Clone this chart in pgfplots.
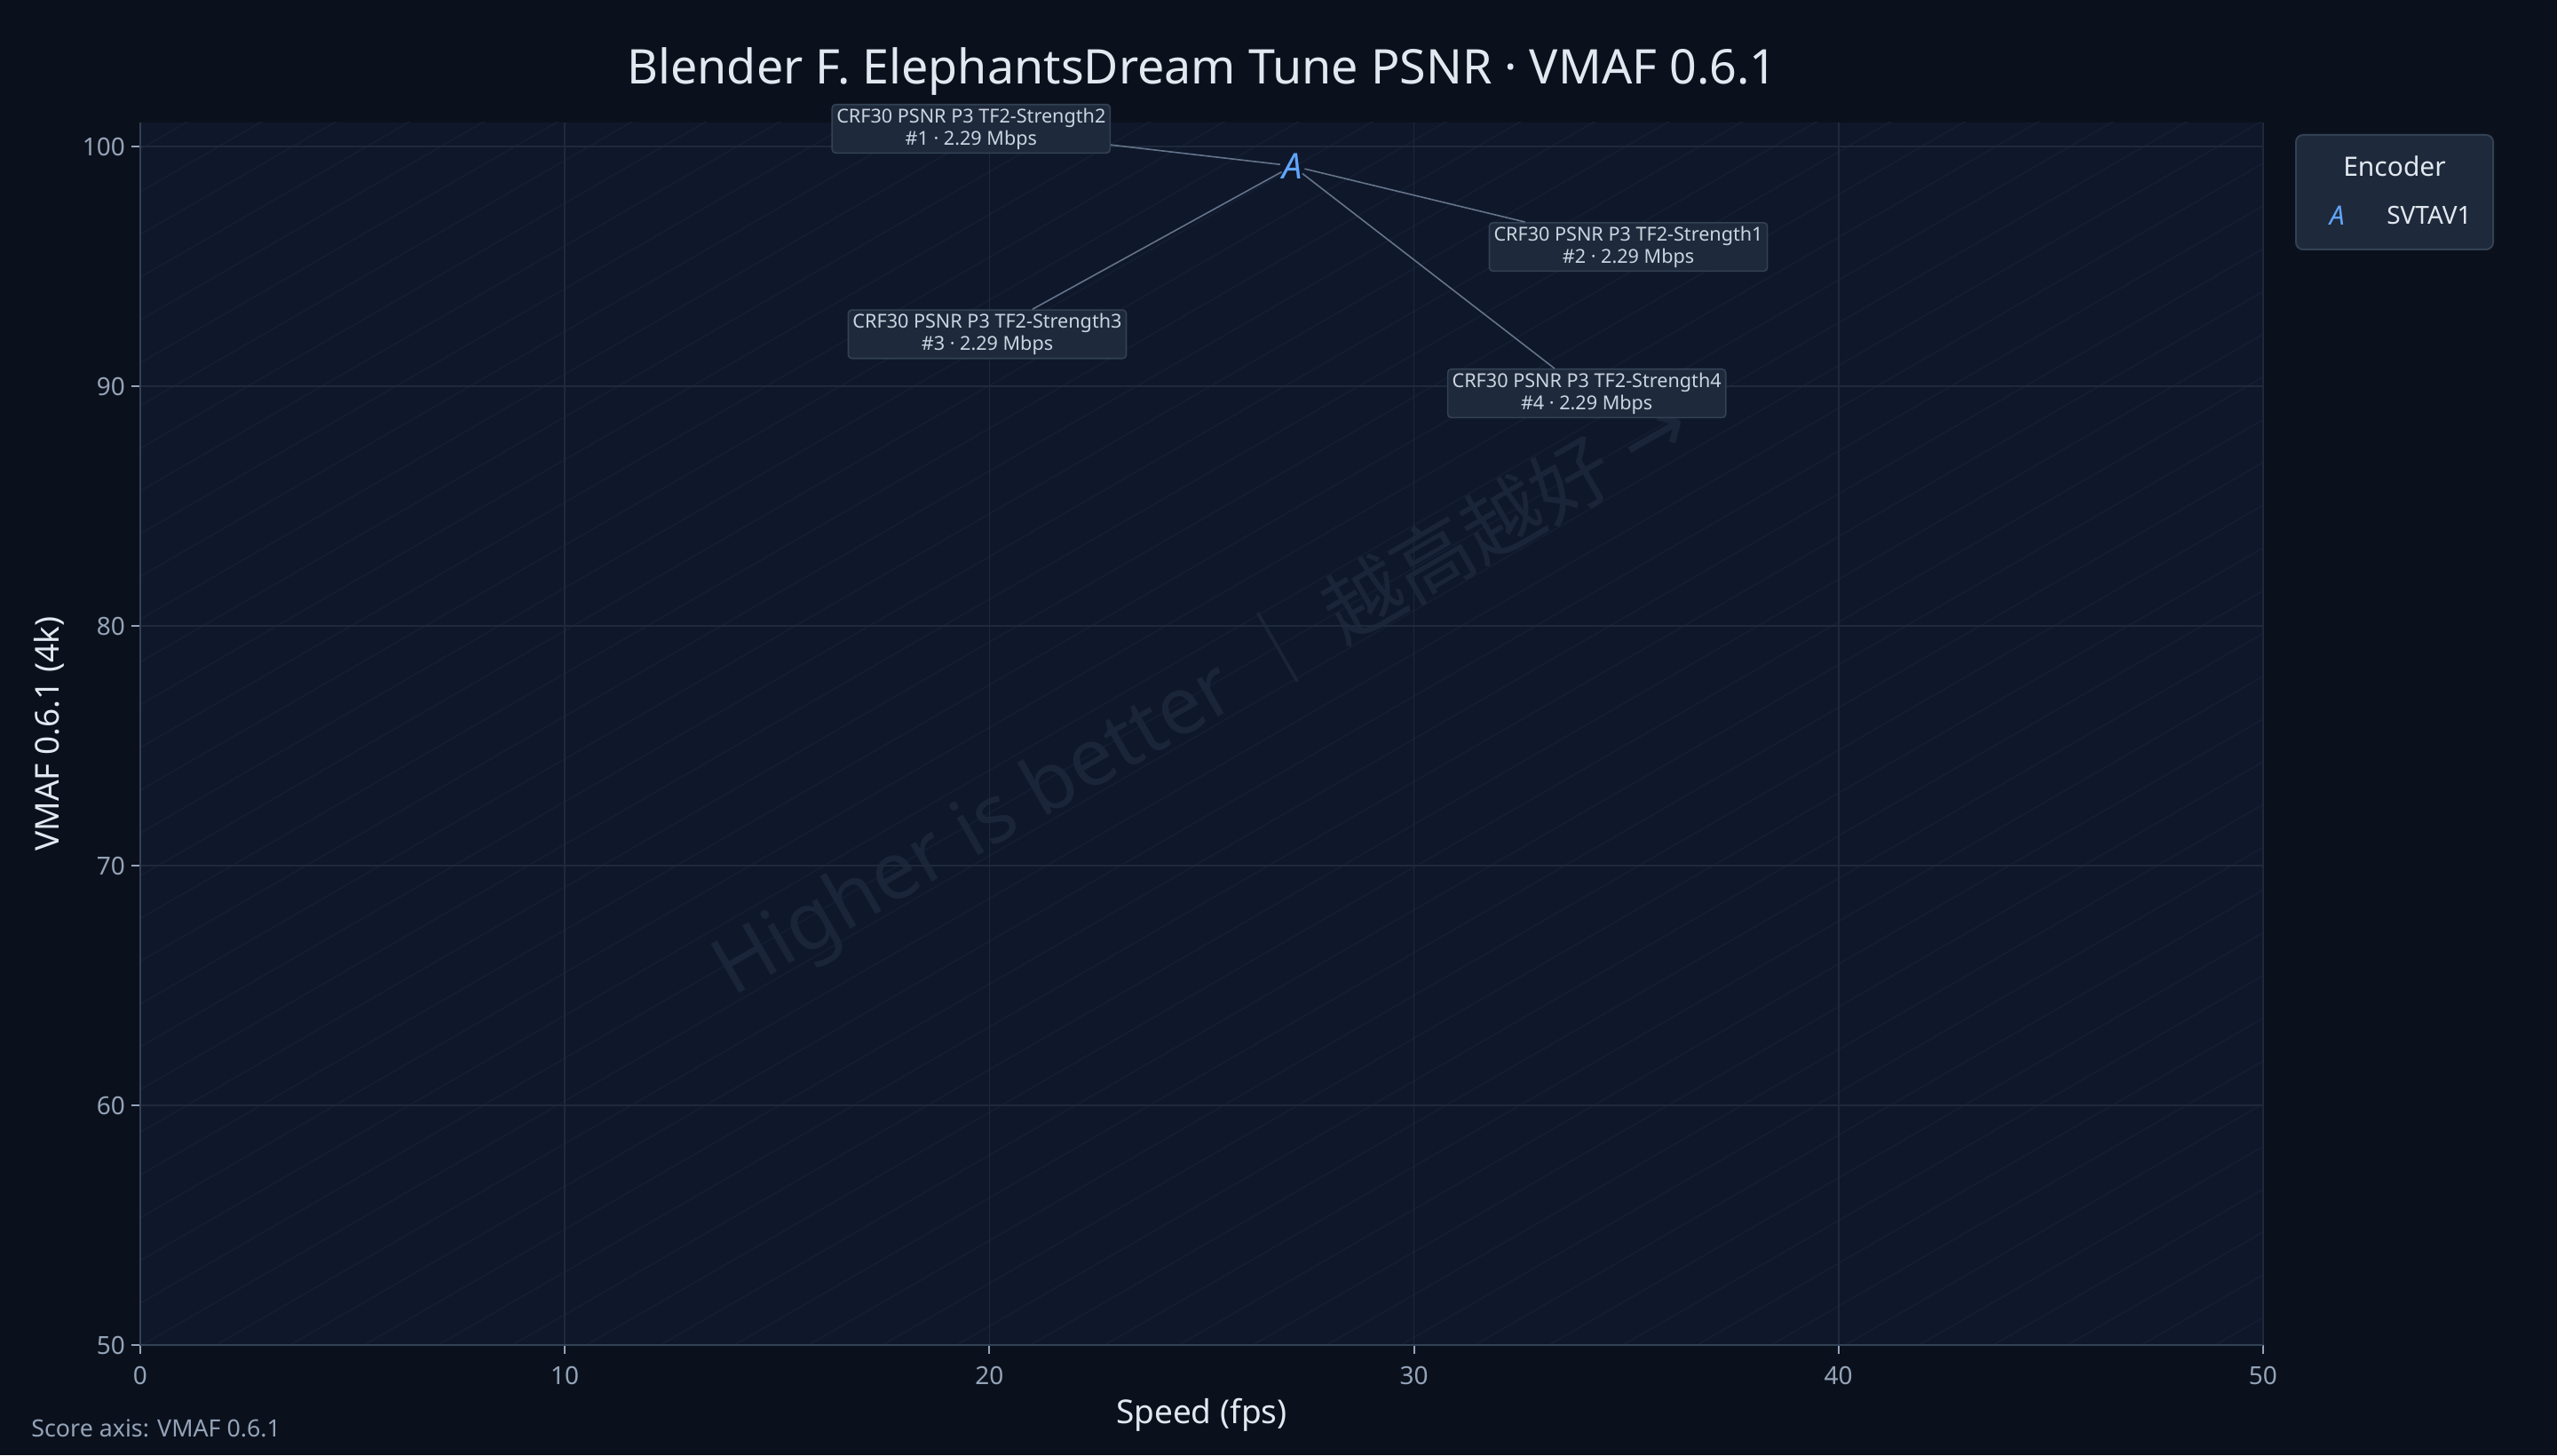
\documentclass[border=0pt]{standalone}
\usepackage{pgfplots}
\pgfplotsset{compat=1.18}
\usepackage{pgfplotstable}
\usepackage{fontspec}
\setmainfont{Noto Sans}
\newfontfamily\cjk{Noto Sans CJK SC}
\newfontfamily\dejavu{DejaVu Sans}
\definecolor{bgout}{HTML}{0B111C}
\definecolor{bgplot}{HTML}{0F172A}
\definecolor{gridc}{HTML}{1E293B}
\definecolor{axisc}{HTML}{334155}
\definecolor{tickc}{HTML}{94A3B8}
\definecolor{titlec}{HTML}{E2E8F0}
\definecolor{markc}{HTML}{60A5FA}
\definecolor{boxfill}{HTML}{1E293B}
\definecolor{boxdraw}{HTML}{334155}
\definecolor{labc}{HTML}{CBD5E1}
\definecolor{leadc}{HTML}{64748B}
\definecolor{stripec}{HTML}{141E33}
\definecolor{wmc}{HTML}{1A2539}

\pgfplotstableread{
x y
27.14 99.19
}\pts

\begin{document}
\begin{tikzpicture}[x=1pt,y=1pt]
\fill[bgout] (0,0) rectangle (1440,819.5);
\useasboundingbox (0,0) rectangle (1440,819.5);
\fill[bgplot] (79,62) rectangle (1274.5,750.5);
\begin{scope}
\clip (79,62) rectangle (1274.5,750.5);
\foreach \i in {-35,...,30} { \draw[stripec, line width=0.8pt] ({80+\i*41.7}, 62) -- ++(1600, 923.8); }
\node[rotate=30, font=\fontsize{45}{45}\selectfont, text=wmc] at (676.75, 427) {Higher is better {\cjk ｜ 越高越好} {\dejavu →}};
\end{scope}
\node[font=\fontsize{26.9}{26.9}\selectfont, text=titlec] at (677, 779) {Blender F. ElephantsDream Tune PSNR · VMAF 0.6.1};
\node[font=\fontsize{13.4}{13.4}\selectfont, text=tickc, anchor=west, inner sep=0pt] at (17.5, 15) {Score axis: VMAF 0.6.1};
\fill[boxfill, draw=boxdraw, line width=1pt, rounded corners=4pt] (1293,679) rectangle (1404,743.5);
\node[font=\fontsize{15}{15}\selectfont, text=titlec] at (1348.5, 725.8) {Encoder};
\begin{axis}[at={(79pt,62pt)}, anchor=south west, scale only axis,
  width=1195.5pt, height=688.5pt,
  xmin=0, xmax=50, ymin=50, ymax=101,
  xtick={0,10,...,50}, ytick={50,60,...,100},
  axis x line*=bottom, axis y line*=left,
  axis line style={axisc, line width=1.2pt, -},
  tick align=outside, major tick length=5pt,
  tick style={tickc, line width=1pt},
  grid=major, grid style={gridc, line width=0.8pt},
  ticklabel style={font=\fontsize{14}{14}\selectfont, text=tickc},
  xticklabel style={yshift=-3.5pt},
  /pgf/number format/assume math mode=true,
  xlabel={Speed (fps)}, ylabel={VMAF 0.6.1 (4k)},
  label style={font=\fontsize{18.5}{18.5}\selectfont, text=titlec},
  xlabel style={at={(rel axis cs:0.5,0)}, anchor=center, yshift=-39.5pt},
  ylabel style={at={(axis description cs:-0.0431,0.5)}, anchor=center},
  clip=false,
  legend style={at={(axis description cs:1.0297,0.9230)}, anchor=west, draw=none, fill=none,
    font=\fontsize{14}{14}\selectfont, text=titlec, inner sep=0pt},
  legend image code/.code={\path[draw=none, fill=none] (-6pt,0) -- (26pt,0);
    \draw[mark=text, text mark={A}, text mark as node=true,
    text mark style={font=\itshape\fontsize{15}{15}\selectfont, text=markc, inner sep=0pt}]
    plot coordinates {(0pt,0pt)};},
]
\addplot[only marks, mark=text, text mark={A}, text mark as node=true,
  text mark style={font=\itshape\fontsize{20}{20}\selectfont, text=markc, inner sep=0pt}] table {\pts};
\addlegendentry{SVTAV1}
\tikzset{lab/.style={fill=boxfill, draw=boxdraw, line width=0.8pt, rounded corners=2pt, align=center,
  font=\fontsize{10.8}{12.5}\selectfont, text=labc, inner xsep=2.5pt, inner ysep=2pt}}
\node[lab] (l1) at (axis cs:19.57,100.74) {CRF30 PSNR P3 TF2-Strength2\\\#1 · 2.29 Mbps};
\node[lab] (l2) at (axis cs:35.05,95.81) {CRF30 PSNR P3 TF2-Strength1\\\#2 · 2.29 Mbps};
\node[lab] (l3) at (axis cs:19.95,92.17) {CRF30 PSNR P3 TF2-Strength3\\\#3 · 2.29 Mbps};
\node[lab] (l4) at (axis cs:34.07,89.70) {CRF30 PSNR P3 TF2-Strength4\\\#4 · 2.29 Mbps};
\draw[leadc, line width=0.8pt, shorten <=7pt] (axis cs:27.14,99.19) -- (l1);
\draw[leadc, line width=0.8pt, shorten <=7pt] (axis cs:27.14,99.19) -- (l2);
\draw[leadc, line width=0.8pt, shorten <=7pt] (axis cs:27.14,99.19) -- (l3);
\draw[leadc, line width=0.8pt, shorten <=7pt] (axis cs:27.14,99.19) -- (l4);
\end{axis}
\end{tikzpicture}
\end{document}
